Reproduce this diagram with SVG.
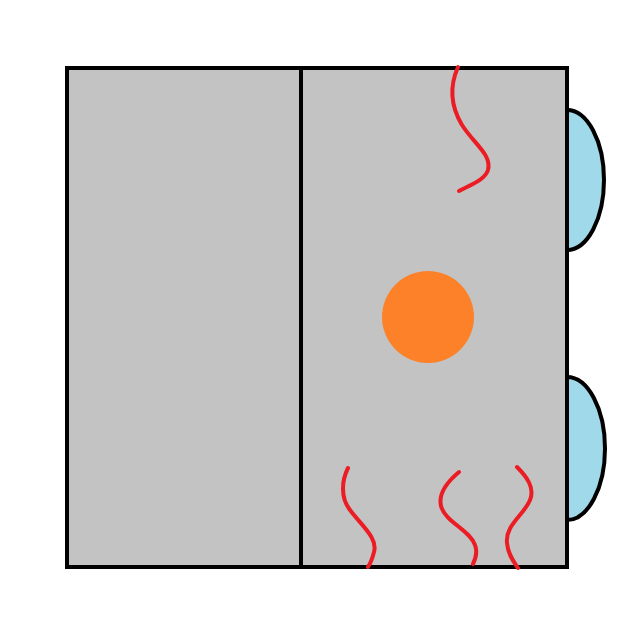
<svg xmlns="http://www.w3.org/2000/svg" width="640" height="640" viewBox="0 0 640 640">
<style>
.box{fill:#c3c3c3;stroke:#000;stroke-width:4}
.lens{fill:#9fd9ea;stroke:#000;stroke-width:4}
.heat{fill:none;stroke:#ec1c24;stroke-width:4;stroke-linecap:round}
</style>
<rect width="640" height="640" fill="#fff"/>
<g id="lens-top"><path class="lens" d="M567,110 A37,70 0 0 1 567,250 Z"/></g>
<g id="lens-bottom"><path class="lens" d="M567,377 A38,71.5 0 0 1 567,520 Z"/></g>
<g id="box"><rect class="box" x="67" y="68" width="500" height="499"/>
<line x1="301" y1="68" x2="301" y2="567" stroke="#000" stroke-width="4"/></g>
<g id="source"><circle cx="428" cy="317" r="46" fill="#fd8128"/></g>
<g id="heat">
<path class="heat" d="M458,67 C450,85 450,105 462,125 C475,145 492,155 488,170 C485,180 470,185 459,191"/>
<path class="heat" d="M348,468 C342,480 340,497 350,510 C362,526 378,538 374,552 C372,560 370,564 368,567"/>
<path class="heat" d="M459,472 C447,482 438,493 441,506 C445,522 470,530 475,545 C478,553 475,560 473,564"/>
<path class="heat" d="M517,467 C527,477 535,488 530,500 C524,515 505,525 507,543 C508,555 514,562 518,568"/>
</g>
</svg>
